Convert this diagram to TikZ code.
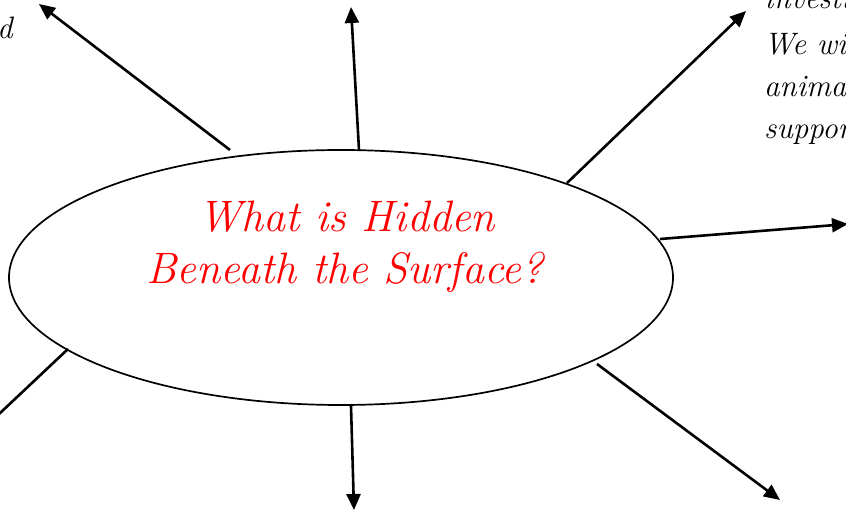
\documentclass[tikz,border=0pt]{standalone}
\usetikzlibrary{arrows.meta,shapes.geometric}
\begin{document}
\begin{tikzpicture}[x=1pt,y=-1pt,
  conn/.style={line width=2.6pt,-{Triangle[length=16pt,width=14pt]}},
  plainconn/.style={line width=2.6pt},
  title/.style={text=red,font=\fontsize{44}{54}\selectfont\itshape,align=center},
  side/.style={font=\fontsize{31}{37}\selectfont\itshape,anchor=base west,inner sep=0pt}]
\useasboundingbox (0,0) rectangle (846,510);
\begin{scope}
\clip (0,0) rectangle (846,510);
\node[draw,line width=1.7pt,ellipse,minimum width=664pt,minimum height=255pt,inner sep=0pt] (e) at (341,277.5) {};
\node[title] (t1) at (347,217) {What is Hidden};
\node[title] (t2) at (345,272) {Beneath the Surface?};
% start points on the ellipse
\coordinate (s1) at (230,150);
\coordinate (s2) at (359,150);
\coordinate (s3) at (567,183);
\coordinate (s4) at (660,239);
\coordinate (s5) at (597,364);
\coordinate (s6) at (351,406);
\coordinate (s7) at (68,349);
% ends
\coordinate (e1) at (39,4);
\coordinate (e2) at (351,7);
\coordinate (e3) at (746,11);
\coordinate (e4) at (848,224);
\coordinate (e5) at (780,500);
\coordinate (e6) at (354,510);
\coordinate (e7) at (-2,415);
\draw[conn] (s1) -- (e1);
\draw[conn] (s2) -- (e2);
\draw[conn] (s3) -- (e3);
\draw[conn] (s4) -- (e4);
\draw[conn] (s5) -- (e5);
\draw[conn] (s6) -- (e6);
\draw[plainconn] (s7) -- (e7);
\node[side] (l0) at (-3,39) {d};
\node[side] (r0) at (764,9) {investigate};
\node[side] (r1) at (764,55) {We will};
\node[side] (r2) at (764,97) {animals};
\node[side] (r3) at (764,139) {support};
\end{scope}
\end{tikzpicture}
\end{document}
